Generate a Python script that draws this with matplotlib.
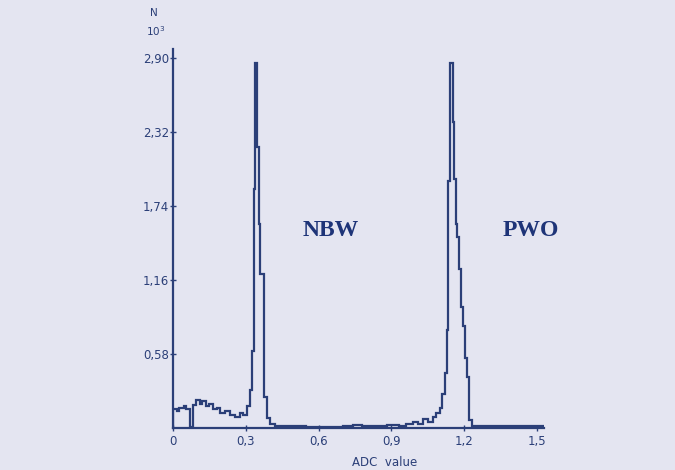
import numpy as np
import matplotlib.pyplot as plt

# bin edges (ADC value) and counts (N, in units of 10^3)
edges = [0.000, 0.015, 0.025, 0.045, 0.055, 0.070, 0.082, 0.095, 0.110, 0.120,
         0.135, 0.150, 0.165, 0.180, 0.195, 0.215, 0.235, 0.255, 0.275, 0.290,
         0.305, 0.317, 0.326, 0.333, 0.338, 0.348, 0.353, 0.358, 0.376, 0.386,
         0.398, 0.420, 0.550, 0.700, 0.740, 0.780, 0.880, 0.930, 0.960, 0.990,
         1.010, 1.030, 1.050, 1.070, 1.085, 1.100, 1.110, 1.120, 1.128, 1.135,
         1.142, 1.154, 1.160, 1.166, 1.172, 1.180, 1.188, 1.196, 1.204, 1.212,
         1.220, 1.232, 1.530]
counts = [0.15, 0.13, 0.16, 0.17, 0.15, 0.01, 0.18, 0.22, 0.19, 0.21,
          0.17, 0.19, 0.15, 0.16, 0.12, 0.13, 0.10, 0.09, 0.12, 0.10,
          0.17, 0.30, 0.60, 1.87, 2.86, 2.20, 1.60, 1.21, 0.24, 0.08,
          0.03, 0.015, 0.010, 0.015, 0.025, 0.012, 0.025, 0.015, 0.035, 0.05,
          0.03, 0.07, 0.05, 0.09, 0.12, 0.16, 0.27, 0.43, 0.77, 1.94,
          2.86, 2.40, 1.95, 1.60, 1.50, 1.25, 0.95, 0.80, 0.55, 0.40,
          0.06, 0.012]

xticks = [0, 0.3, 0.6, 0.9, 1.2, 1.5]
xticklabels = ["0", "0,3", "0,6", "0,9", "1,2", "1,5"]
yticks = [0.58, 1.16, 1.74, 2.32, 2.90]
yticklabels = ["0,58", "1,16", "1,74", "2,32", "2,90"]

bg = "#e4e5f1"
ink = "#2b3f78"
label_ink = "#1e3478"

fig = plt.figure(figsize=(6.75, 4.70), dpi=100, facecolor=bg)
ax = fig.add_axes([0.2563, 0.0894, 0.550, 0.806], facecolor=bg)

ax.stairs(counts, edges, color=ink, linewidth=1.6)

ax.set_xlim(0, 1.53)
ax.set_ylim(0, 2.97)

for side in ["top", "right"]:
    ax.spines[side].set_visible(False)
for side in ["left", "bottom"]:
    ax.spines[side].set_color(ink)
    ax.spines[side].set_linewidth(1.6)

ax.set_xticks(xticks)
ax.set_xticklabels(xticklabels)
ax.set_yticks(yticks)
ax.set_yticklabels(yticklabels)
ax.tick_params(axis="both", direction="inout", length=4, width=1,
               color=ink, labelcolor=ink, labelsize=8.5)
ax.tick_params(axis="x", pad=3)
ax.tick_params(axis="y", pad=1)

ax.text(0.651, 1.55, "NBW", fontsize=17, fontweight="bold",
        family="Liberation Serif", color=label_ink, ha="center", va="center")
ax.text(1.475, 1.55, "PWO", fontsize=17, fontweight="bold",
        family="Liberation Serif", color=label_ink, ha="center", va="center")

fig.text(150 / 675, 1 - 13 / 470, "N", fontsize=7.5, color=ink,
         ha="left", va="center")
fig.text(146 / 675, 1 - 31 / 470, r"10$^3$", fontsize=7.5, color=ink,
         ha="left", va="center")
fig.text(385 / 675, 1 - 462 / 470, "ADC  value", fontsize=8.5, color=ink,
         ha="center", va="center")

fig.savefig("out.png", dpi=100, facecolor=bg)
